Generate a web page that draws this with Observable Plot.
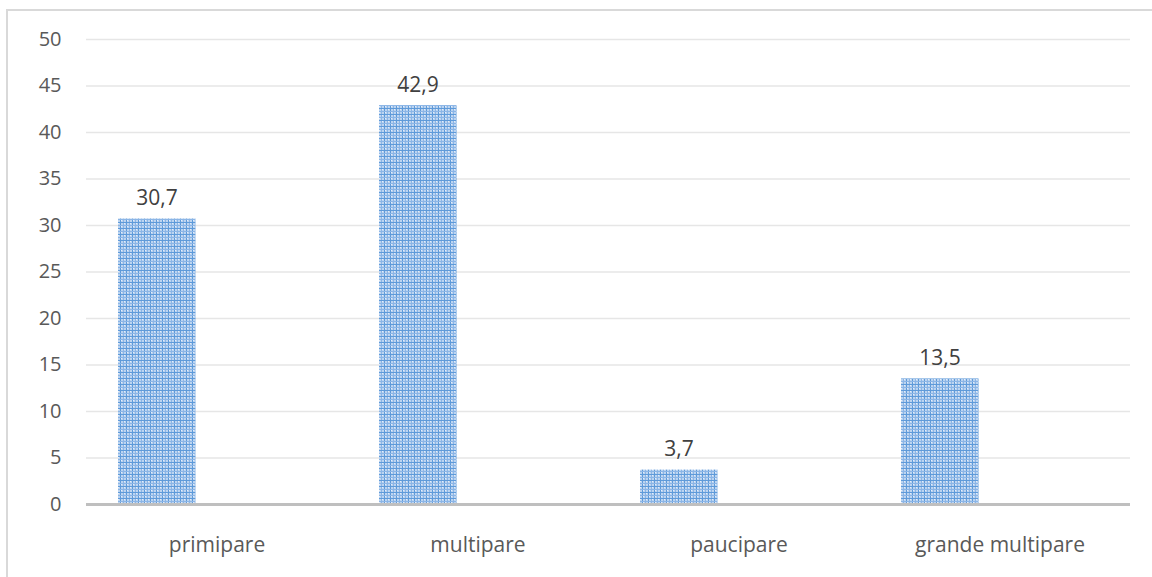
<!DOCTYPE html>
<html>
<head>
<meta charset="utf-8">
<script src="https://cdn.jsdelivr.net/npm/d3@7"></script>
<script src="https://cdn.jsdelivr.net/npm/@observablehq/plot@0.6"></script>
<style>
  html, body { margin: 0; padding: 0; background: #fff; overflow: hidden; }
  #frame { position: absolute; left: 6px; top: 9px; width: 1200px; height: 620px; border: 2px solid #d9d9d9; pointer-events: none; }
  #chart { position: absolute; left: 0; top: 0; }
</style>
</head>
<body>
<svg width="0" height="0" style="position:absolute">
  <defs>
    <pattern id="grid" width="6" height="6" patternUnits="userSpaceOnUse">
      <rect width="6" height="6" fill="#bcd4f0"></rect>
      <rect x="0" y="0" width="1" height="6" fill="#5e9ad9"></rect>
      <rect x="3" y="0" width="1" height="6" fill="#8bb5e6"></rect>
      <rect x="0" y="0" width="6" height="1" fill="#5e9ad9"></rect>
      <rect x="0" y="3" width="6" height="1" fill="#8bb5e6"></rect>
      <rect x="4" y="1" width="1" height="1" fill="#e6eefa"></rect>
      <rect x="1" y="4" width="1" height="1" fill="#e6eefa"></rect>
    </pattern>
  </defs>
</svg>
<div id="chart"></div>
<div id="frame"></div>
<script>
const categories = ["primipare", "multipare", "paucipare", "grande multipare"];
const values = [30.7, 42.9, 3.7, 13.5];
const labels = ["30,7", "42,9", "3,7", "13,5"];
const yTicks = [0, 5, 10, 15, 20, 25, 30, 35, 40, 45, 50];

const data = categories.map((c, i) => ({category: c, value: values[i], label: labels[i]}));

const font = "'Open Sans', sans-serif";
const chart = Plot.plot({
  width: 1152,
  height: 577,
  marginLeft: 86,
  marginRight: 22,
  marginTop: 39,
  marginBottom: 73,
  style: {fontFamily: font, fontSize: "20px", background: "transparent"},
  x: {domain: categories, padding: 0, label: null, tickSize: 0, tickPadding: 33},
  y: {domain: [0, 50], ticks: yTicks, label: null, tickSize: 0, tickPadding: 25},
  marks: [
    Plot.gridY(yTicks, {stroke: "#e6e6e6", strokeOpacity: 1, strokeWidth: 1.5}),
    Plot.axisY(yTicks, {tickSize: 0, tickPadding: 25, color: "#595959", fontSize: 20, tickFormat: d => String(d)}),
    Plot.axisX({tickSize: 0, tickPadding: 33, color: "#595959", fontSize: 21}),
    Plot.barY(data, {x: "category", y: "value", fill: "url(#grid)", insetLeft: 32, insetRight: 151.5}),
    Plot.ruleY([0], {stroke: "#bfbfbf", strokeWidth: 3}),
    Plot.text(data, {x: "category", y: "value", text: "label", dx: -60, dy: -14, lineAnchor: "bottom", fill: "#404040", fontSize: 21})
  ]
});
document.getElementById("chart").appendChild(chart);
</script>
</body>
</html>
